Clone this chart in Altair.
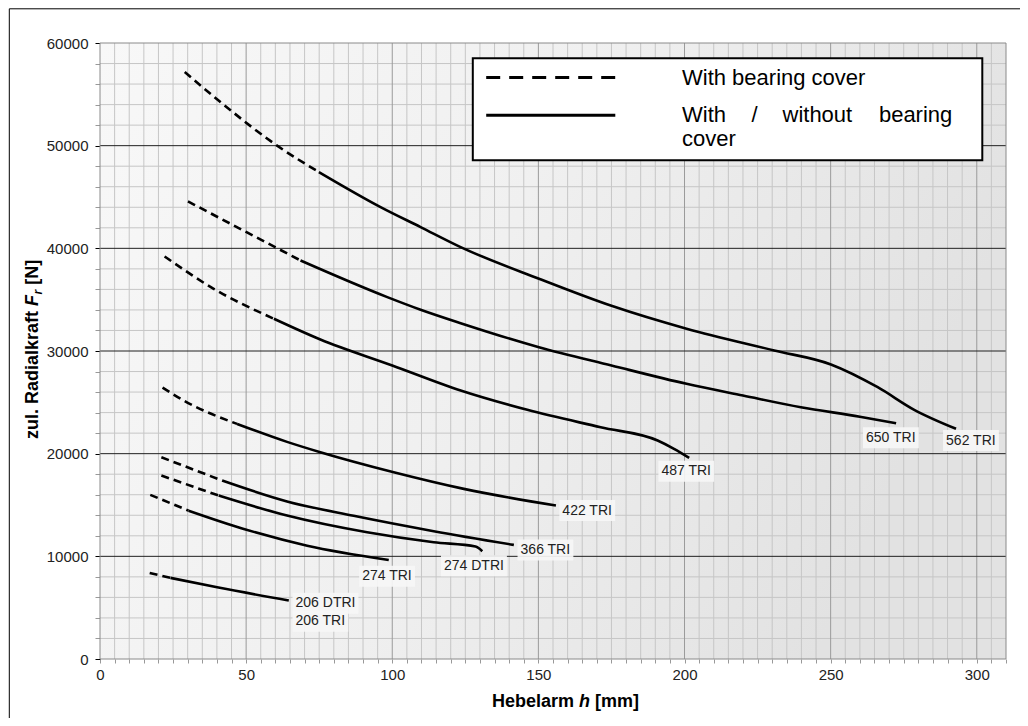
import altair as alt
import pandas as pd

W, H = 906, 616
FONT = "Liberation Sans"

# ---------------- data ----------------
curve_names = ["562 TRI", "650 TRI", "487 TRI", "422 TRI", "366 TRI", "274 DTRI", "274 TRI", "206 TRI"]

x_562 = [29.0, 41.2, 60.6, 74.9, 96.0, 109.7, 123.4, 150.2, 175.0, 200.7, 230.7, 250.1, 266.1, 278.6, 292.9]
y_562 = [57180, 54250, 50000, 47430, 44020, 42070, 40120, 37040, 34400, 32170, 30050, 28690, 26470, 24270, 22420]

x_650 = [30.1, 50.3, 68.6, 98.3, 109.7, 123.4, 150.2, 175.0, 200.7, 220.0, 239.8, 260.0, 272.4]
y_650 = [44570, 41550, 38820, 35250, 34020, 32710, 30370, 28590, 26800, 25660, 24520, 23600, 22960]

x_487 = [22.1, 38.9, 59.5, 75.4, 100.0, 123.4, 146.2, 171.3, 190.8, 196.4, 201.6]
y_487 = [39210, 36060, 33140, 31120, 28590, 26150, 24270, 22570, 21280, 20470, 19590]

x_422 = [21.4, 28.6, 46.9, 64.0, 75.4, 100.5, 124.5, 156.0]
y_422 = [26440, 25180, 22900, 21150, 20140, 18190, 16570, 14950]

x_366 = [21.0, 41.8, 64.0, 86.8, 114.2, 141.6]
y_366 = [19650, 17380, 15350, 13950, 12450, 11110]

x_274d = [21.0, 40.6, 64.0, 91.4, 114.2, 128.5, 130.8]
y_274d = [17870, 15920, 13970, 12340, 11370, 10950, 10490]

x_274 = [17.2, 30.3, 49.2, 70.9, 98.8]
y_274 = [15990, 14450, 12670, 11040, 9650]

x_206 = [17.0, 24.1, 40.1, 64.6]
y_206 = [8380, 7900, 6980, 5700]

# index of the point where the dashed part ends and the solid part starts
dash_end = [3, 2, 2, 2, 1, 1, 1, 1]

curve_x = [x_562, x_650, x_487, x_422, x_366, x_274d, x_274, x_206]
curve_y = [y_562, y_650, y_487, y_422, y_366, y_274d, y_274, y_206]

label_texts = ["650 TRI", "562 TRI", "487 TRI", "422 TRI", "366 TRI", "274 DTRI", "274 TRI", "206 DTRI", "206 TRI"]
label_x = [262.1, 289.5, 192.1, 158.2, 143.9, 117.7, 89.7, 66.9, 66.9]
label_y = [21540, 21280, 18290, 14460, 10620, 9090, 8050, 5420, 3670]

x_ticks = list(range(0, 311, 5))
y_ticks = list(range(0, 60001, 2000))

# ---------------- tables ----------------
rows_dash, rows_solid = [], []
for name, xs_, ys_, k in zip(curve_names, curve_x, curve_y, dash_end):
    for i in range(0, k + 1):
        rows_dash.append({"curve": name, "x": xs_[i], "y": ys_[i], "o": i})
    for i in range(k, len(xs_)):
        rows_solid.append({"curve": name, "x": xs_[i], "y": ys_[i], "o": i})
df_dash = pd.DataFrame(rows_dash)
df_solid = pd.DataFrame(rows_solid)

char_w = {"0": .556, "1": .556, "2": .556, "3": .556, "4": .556, "5": .556, "6": .556,
          "7": .556, "8": .556, "9": .556, " ": .278, "T": .611, "R": .722, "I": .278, "D": .722}
px_per_unit = W / 310.0
px_per_val = H / 60000.0
lab_rows = []
for t, lx, ly in zip(label_texts, label_x, label_y):
    wpx = sum(char_w.get(c, .556) for c in t) * 14
    lab_rows.append({"t": t, "x": lx, "y": ly,
                     "x0": lx - 3 / px_per_unit, "x1": lx + (wpx + 3) / px_per_unit,
                     "y0": ly - 10.5 / px_per_val, "y1": ly + 10.5 / px_per_val})
df_lab = pd.DataFrame(lab_rows)

xg = [v for v in x_ticks if 0 < v < 310]
yg = [v for v in y_ticks if 0 < v < 60000]
df_xg_minor = pd.DataFrame({"x": [v for v in xg if v % 50]})
df_xg_major = pd.DataFrame({"x": [v for v in xg if v % 50 == 0]})
df_yg_minor = pd.DataFrame({"y": [v for v in yg if v % 10000]})
df_yg_major = pd.DataFrame({"y": [v for v in yg if v % 10000 == 0]})

xs = alt.Scale(domain=[0, 310], nice=False, zero=False)
ys = alt.Scale(domain=[0, 60000], nice=False, zero=False)
x_axis = alt.Axis(values=x_ticks, labelExpr="datum.value % 50 === 0 ? datum.label : ''",
                  grid=False, domain=False, tickSize=4, tickColor="#999999",
                  labelFont=FONT, labelFontSize=15, labelColor="#222222", labelPadding=4,
                  labelFlush=False, labelOverlap=False, title=None)
y_axis = alt.Axis(values=y_ticks, format="d",
                  labelExpr="datum.value % 10000 === 0 ? datum.label : ''",
                  grid=False, domain=False, tickSize=5,
                  tickColor={"condition": {"test": "datum.value % 10000 === 0", "value": "#000000"},
                             "value": "#999999"},
                  labelFont=FONT, labelFontSize=15, labelColor="#222222", labelPadding=7,
                  labelFlush=False, labelOverlap=False, title=None)

def X(f="x"):
    return alt.X(f + ":Q", scale=xs, axis=x_axis)

def Y(f="y"):
    return alt.Y(f + ":Q", scale=ys, axis=y_axis)

# ---------------- layers ----------------
bg = alt.Chart(pd.DataFrame({"a": [0]})).mark_rect(
    fill=alt.LinearGradient(gradient="linear", x1=0, y1=0, x2=1, y2=0.3,
                            stops=[alt.GradientStop(color="#f8f8f8", offset=0),
                                   alt.GradientStop(color="#f0f0f0", offset=0.5),
                                   alt.GradientStop(color="#e2e2e2", offset=1)])
).encode(x=alt.value(0), x2=alt.value(W), y=alt.value(0), y2=alt.value(H))

g_xmin = alt.Chart(df_xg_minor).mark_rule(color="#c6c6c6", strokeWidth=1).encode(x=X())
g_ymin = alt.Chart(df_yg_minor).mark_rule(color="#c6c6c6", strokeWidth=1).encode(y=Y())
g_xmaj = alt.Chart(df_xg_major).mark_rule(color="#9a9a9a", strokeWidth=1).encode(x=X())
g_ymaj = alt.Chart(df_yg_major).mark_rule(color="#202020", strokeWidth=1).encode(y=Y())

l_dash = alt.Chart(df_dash).mark_line(color="black", strokeWidth=2.6, strokeDash=[8, 5],
                                      interpolate="monotone").encode(
    x=X(), y=Y(), detail="curve:N", order="o:Q")
l_solid = alt.Chart(df_solid).mark_line(color="black", strokeWidth=2.6,
                                        interpolate="monotone").encode(
    x=X(), y=Y(), detail="curve:N", order="o:Q")

lab_box = alt.Chart(df_lab).mark_rect(color="#f6f6f6", opacity=0.92).encode(
    x=X("x0"), x2="x1:Q", y=Y("y0"), y2="y1:Q")
lab_txt = alt.Chart(df_lab).mark_text(font=FONT, fontSize=14, color="#222222",
                                      align="left", baseline="middle").encode(
    x=X(), y=Y(), text="t:N")

frame = alt.Chart(pd.DataFrame({"a": [0]})).mark_rect(
    fillOpacity=0, stroke="#8a8a8a", strokeWidth=1
).encode(x=alt.value(0), x2=alt.value(W), y=alt.value(0), y2=alt.value(H))

# legend box
leg_box = alt.Chart(pd.DataFrame({"a": [0]})).mark_rect(
    fill="white", stroke="black", strokeWidth=2
).encode(x=alt.value(372.8), x2=alt.value(882.3), y=alt.value(15.3), y2=alt.value(117.3))
leg_dash = alt.Chart(pd.DataFrame({"a": [0]})).mark_rule(
    color="black", strokeWidth=3, strokeDash=[14, 9]
).encode(x=alt.value(386.2), x2=alt.value(515.3), y=alt.value(34.5))
leg_solid = alt.Chart(pd.DataFrame({"a": [0]})).mark_rule(
    color="black", strokeWidth=3
).encode(x=alt.value(386.2), x2=alt.value(515.3), y=alt.value(72.3))

leg_left = pd.DataFrame({"t": ["With bearing cover", "With", "/", "without", "cover"],
                         "px": [582.0, 582.0, 651.5, 682.5, 582.0],
                         "py": [42.3, 79.3, 79.3, 79.3, 103.0]})
leg_t1 = alt.Chart(leg_left).mark_text(font=FONT, fontSize=22, color="black", align="left",
                                       baseline="alphabetic").encode(
    x=alt.X("px:Q", scale=None), y=alt.Y("py:Q", scale=None), text="t:N")
leg_t2 = alt.Chart(pd.DataFrame({"t": ["bearing"], "px": [852.3], "py": [79.3]})).mark_text(
    font=FONT, fontSize=22, color="black", align="right", baseline="alphabetic").encode(
    x=alt.X("px:Q", scale=None), y=alt.Y("py:Q", scale=None), text="t:N")

# axis titles (mixed styles)
xt_plain = pd.DataFrame({"t": ["Hebelarm", "[mm]"], "px": [392.0, 495.0], "py": [664.0, 664.0]})
xt1 = alt.Chart(xt_plain).mark_text(font=FONT, fontSize=18, fontWeight="bold", color="black",
                                    align="left", baseline="alphabetic").encode(
    x=alt.X("px:Q", scale=None), y=alt.Y("py:Q", scale=None), text="t:N")
xt2 = alt.Chart(pd.DataFrame({"t": ["h"], "px": [479.0], "py": [664.0]})).mark_text(
    font=FONT, fontSize=18, fontWeight="bold", fontStyle="italic", color="black",
    align="left", baseline="alphabetic").encode(
    x=alt.X("px:Q", scale=None), y=alt.Y("py:Q", scale=None), text="t:N")

yt_plain = pd.DataFrame({"t": ["zul. Radialkraft", "[N]"], "px": [-62.3, -62.3], "py": [396.0, 241.8]})
yt1 = alt.Chart(yt_plain).mark_text(font=FONT, fontSize=18, fontWeight="bold", color="black",
                                    align="left", baseline="alphabetic", angle=270).encode(
    x=alt.X("px:Q", scale=None), y=alt.Y("py:Q", scale=None), text="t:N")
yt2 = alt.Chart(pd.DataFrame({"t": ["F"], "px": [-62.3], "py": [263.0]})).mark_text(
    font=FONT, fontSize=18, fontWeight="bold", fontStyle="italic", color="black",
    align="left", baseline="alphabetic", angle=270).encode(
    x=alt.X("px:Q", scale=None), y=alt.Y("py:Q", scale=None), text="t:N")
yt3 = alt.Chart(pd.DataFrame({"t": ["r"], "px": [-58.3], "py": [251.5]})).mark_text(
    font=FONT, fontSize=12, fontWeight="bold", fontStyle="italic", color="black",
    align="left", baseline="alphabetic", angle=270).encode(
    x=alt.X("px:Q", scale=None), y=alt.Y("py:Q", scale=None), text="t:N")

outer = alt.Chart(pd.DataFrame({"a": [0]})).mark_rect(
    fillOpacity=0, stroke="black", strokeWidth=1
).encode(x=alt.value(-90.7), x2=alt.value(W + 200), y=alt.value(-34.2), y2=alt.value(H + 200))

chart = alt.layer(
    bg, g_xmin, g_ymin, g_xmaj, g_ymaj, l_dash, l_solid, lab_box, lab_txt, frame,
    leg_box, leg_dash, leg_solid, leg_t1, leg_t2, xt1, xt2, yt1, yt2, yt3, outer
).properties(
    width=W, height=H,
    autosize=alt.AutoSizeParams(type="none"),
    padding={"left": 92, "top": 35, "right": 14, "bottom": 59},
    background="white",
).configure_view(strokeWidth=0)

chart.save("out.html", embed_options={"renderer": "svg", "actions": False})
